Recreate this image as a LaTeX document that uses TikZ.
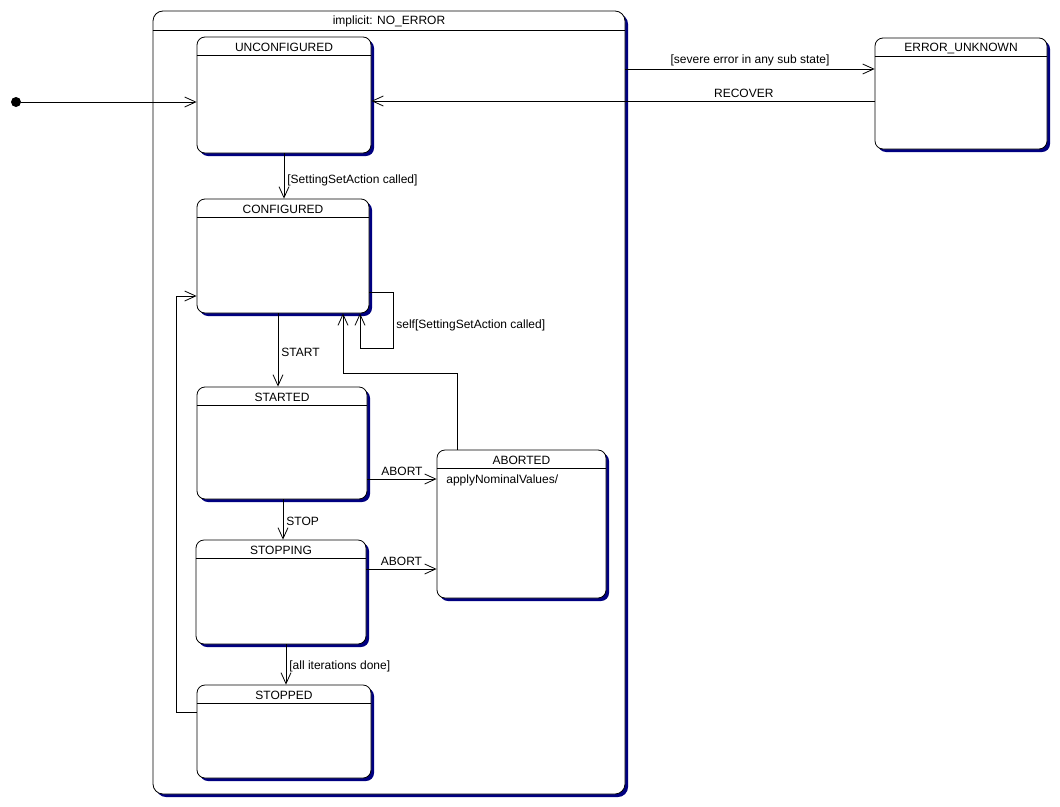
\documentclass[tikz,border=0pt]{standalone}
\usepackage{fontspec}
\setmainfont{Liberation Sans}
\usepackage{xcolor}
\usepackage{tikz}
\usetikzlibrary{arrows.meta,positioning,shadows}
\definecolor{shadownavy}{RGB}{0,0,128}

\begin{document}
\begin{tikzpicture}[x=1pt,y=-1pt,font=\fontsize{12}{14}\selectfont,line width=0.8pt,
  >={Straight Barb[length=11pt,width=10pt]},
  state/.style={draw,rounded corners=8pt,fill=white,inner sep=0pt,
    drop shadow={shadow xshift=3pt,shadow yshift=-3pt,fill=shadownavy,opacity=1}},
  lbl/.style={inner sep=3pt}]
\useasboundingbox (0,0) rectangle (1060,806);
\node[state,rounded corners=10pt,minimum width=472pt,minimum height=783pt] (noerr) at (389,402.5) {};
\draw ([yshift=-20pt]noerr.north west) -- ([yshift=-20pt]noerr.north east);
\node (noerr-t) at ([yshift=-10.5pt]noerr.north) {implicit: NO\_ERROR};
\foreach \nm/\cx/\cy/\w/\h/\txt in {unconf/284/95/174/116/UNCONFIGURED,
    conf/283/256/172/114/CONFIGURED, started/282/443/170/112/STARTED,
    stopping/281/592/170/104/STOPPING, stopped/284/731.5/174/93/STOPPED,
    aborted/521.5/524/169/148/ABORTED, errunk/961/93.5/172/111/ERROR\_UNKNOWN} {
    \node[state,minimum width=\w pt,minimum height=\h pt] (\nm) at (\cx,\cy) {};
    \draw ([yshift=-19pt]\nm.north west) -- ([yshift=-19pt]\nm.north east);
    \node (\nm-t) at ([yshift=-11pt]\nm.north) {\txt};
}
\node[anchor=west] (aborted-do) at ([xshift=6pt,yshift=-31pt]aborted.north west) {applyNominalValues/};
\node[circle,fill,inner sep=0pt,minimum size=10pt] (init) at (16,102) {};
\draw[->] (init) -- (unconf.west |- init);
\draw[->] (noerr.east |- 0,69) -- (errunk.west |- 0,69) node[lbl,midway,above] {[severe error in any sub state]};
\draw[->] (errunk.west |- 0,101) -- (unconf.east |- 0,101) node[lbl,pos=0.26,above] {RECOVER};
\draw[->] (284,0 |- unconf.south) -- (284,0 |- conf.north) node[lbl,pos=0.6,right] {[SettingSetAction called]};
\draw[->] (278,0 |- conf.south) -- (278,0 |- started.north) node[lbl,pos=0.53,right] {START};
\draw[->] (283,0 |- started.south) -- (283,0 |- stopping.north) node[lbl,pos=0.55,right] {STOP};
\draw[->] (286,0 |- stopping.south) -- (286,0 |- stopped.north) node[lbl,pos=0.55,right] {[all iterations done]};
\draw[->] (started.east |- 0,479) -- (aborted.west |- 0,479) node[lbl,midway,above] {ABORT};
\draw[->] (stopping.east |- 0,569) -- (aborted.west |- 0,569) node[lbl,midway,above] {ABORT};
\draw[->] (conf.east |- 0,292) -| node[lbl,pos=0.8,right] {self[SettingSetAction called]} (393,348) -| (360,0 |- conf.south);
\draw[->] (457,0 |- aborted.north) |- (343,373) -- (343,0 |- conf.south);
\draw[->] (stopped.west |- 0,712) -| (176,296) -- (conf.west |- 0,296);
\end{tikzpicture}
\end{document}
